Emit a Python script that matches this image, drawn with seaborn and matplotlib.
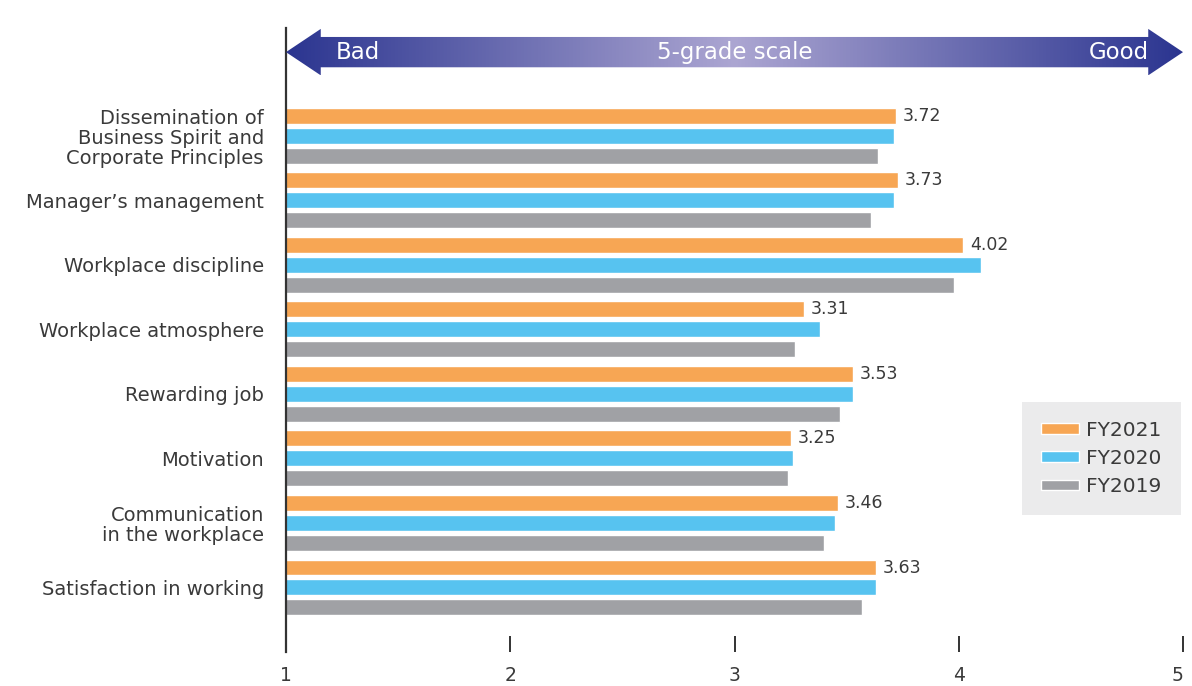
import numpy as np
import pandas as pd
import seaborn as sns
import matplotlib.pyplot as plt
from matplotlib.colors import LinearSegmentedColormap
from matplotlib.patches import Polygon

categories = ["Dissemination of\nBusiness Spirit and\nCorporate Principles",
              "Manager\u2019s management",
              "Workplace discipline",
              "Workplace atmosphere",
              "Rewarding job",
              "Motivation",
              "Communication\nin the workplace",
              "Satisfaction in working"]
fy2021 = [3.72, 3.73, 4.02, 3.31, 3.53, 3.25, 3.46, 3.63]
fy2020 = [3.71, 3.71, 4.10, 3.38, 3.53, 3.26, 3.45, 3.63]
fy2019 = [3.64, 3.61, 3.98, 3.27, 3.47, 3.24, 3.40, 3.57]
years = ["FY2021", "FY2020", "FY2019"]
x_ticks = [1, 2, 3, 4, 5]

colors = ["#f7a654", "#57c3f0", "#a0a1a5"]
text_color = "#3a3a3a"

sns.set_style("white")
plt.rcParams["font.family"] = ["DejaVu Sans"]

df = pd.DataFrame({
    "category": categories * 3,
    "score": fy2021 + fy2020 + fy2019,
    "year": [y for y in years for _ in categories],
})

fig = plt.figure(figsize=(11.92, 6.86), dpi=100)
ax = fig.add_axes([286 / 1192, 34 / 686, 897 / 1192, 624 / 686])

sns.barplot(data=df, y="category", x="score", hue="year", hue_order=years,
            palette=colors, orient="h", width=0.93, gap=0.2, ax=ax,
            saturation=1)

# value labels for FY2021
for i, v in enumerate(fy2021):
    ax.text(v + 0.03, i - 0.31, f"{v:.2f}", va="center", ha="left",
            fontsize=12.5, color=text_color)

# gradient arrow on top
y_c, body, head, hl = -1.30, 0.235, 0.36, 0.155
arrow_pts = [(1, y_c), (1 + hl, y_c - head), (1 + hl, y_c - body),
             (5 - hl, y_c - body), (5 - hl, y_c - head), (5, y_c),
             (5 - hl, y_c + head), (5 - hl, y_c + body), (1 + hl, y_c + body),
             (1 + hl, y_c + head)]
poly = Polygon(arrow_pts, closed=True, facecolor="none", edgecolor="none")
ax.add_patch(poly)
cmap = LinearSegmentedColormap.from_list("grad", ["#2b3590", "#aca6d2", "#2b3590"])
grad = np.linspace(0, 1, 512).reshape(1, -1)
im = ax.imshow(grad, cmap=cmap, aspect="auto",
               extent=(1, 5, y_c + head, y_c - head), zorder=3)
im.set_clip_path(poly)
ax.text(1.22, y_c, "Bad", color="white", fontsize=16.5, va="center", ha="left", zorder=4)
ax.text(3.0, y_c, "5-grade scale", color="white", fontsize=16.5, va="center", ha="center", zorder=4)
ax.text(4.85, y_c, "Good", color="white", fontsize=16.5, va="center", ha="right", zorder=4)

ax.set_xlim(1, 5)
ax.set_ylim(8.0, -1.674)
ax.set_xticks(x_ticks)
ax.set_xlabel("")
ax.set_ylabel("")

for s in ["top", "right", "bottom"]:
    ax.spines[s].set_visible(False)
ax.spines["left"].set_color("#333333")
ax.spines["left"].set_linewidth(1.6)

ax.tick_params(axis="x", bottom=True, direction="in", length=11.5, width=1.4,
               colors="#333333", labelsize=13.5, pad=10, labelcolor=text_color)
ax.tick_params(axis="y", left=False, length=0, pad=16, labelsize=14,
               labelcolor=text_color)
for lab in ax.get_yticklabels():
    lab.set_linespacing(1.05)
# keep the rightmost tick label inside the figure
ax.get_xticklabels()[-1].set_ha("right")

leg = ax.legend(loc="center", bbox_to_anchor=(0.909, 0.31), frameon=True,
                fontsize=14.5, handlelength=1.9, handleheight=0.45,
                labelspacing=0.45, borderpad=0.95, handletextpad=0.35,
                fancybox=False, title=None)
leg.get_frame().set_facecolor("#e6e7e8")
leg.get_frame().set_edgecolor("none")
for t in leg.get_texts():
    t.set_color(text_color)

fig.savefig("out.png", dpi=100)
